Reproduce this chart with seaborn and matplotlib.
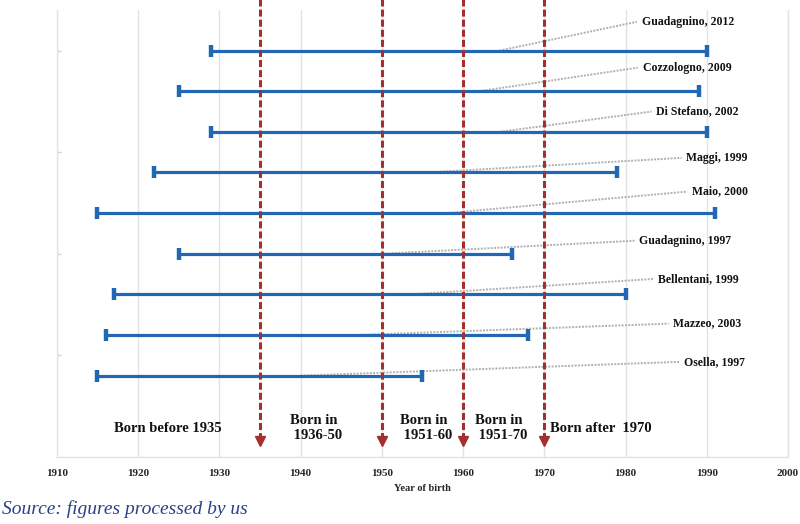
import pandas as pd
import matplotlib.pyplot as plt
import seaborn as sns

sns.set_theme(style="white")
plt.rcParams["font.family"] = ["Liberation Serif", "DejaVu Serif"]

# dati: intervallo degli anni di nascita per studio (dall'alto in basso)
studi = ["Guadagnino, 2012", "Cozzologno, 2009", "Di Stefano, 2002", "Maggi, 1999",
         "Maio, 2000", "Guadagnino, 1997", "Bellentani, 1999", "Mazzeo, 2003", "Osella, 1997"]
anno_inizio = [1929, 1925, 1929, 1922, 1915, 1925, 1917, 1916, 1915]
anno_fine = [1990, 1989, 1990, 1979, 1991, 1966, 1980, 1968, 1955]
riga = [10, 9, 8, 7, 6, 5, 4, 3, 2]

coorti = [1935, 1950, 1960, 1970]
etichette_coorti = ["Born before 1935", "Born in\n 1936-50", "Born in\n 1951-60",
                    "Born in\n 1951-70", "Born after  1970"]

# layout delle etichette (x inizio guida, x testo, y testo)
guida_x = [1964.5, 1962, 1964.5, 1955.5, 1958, 1950, 1953.5, 1947, 1940]
testo_x = [1982, 1982.1, 1983.8, 1987.5, 1988.2, 1981.7, 1984, 1985.9, 1987.2]
testo_y = [10.71, 9.58, 8.50, 7.36, 6.53, 5.32, 4.38, 3.28, 2.34]
coorti_x = [1917, 1938.7, 1952.2, 1961.5, 1970.7]

df = pd.DataFrame({"studio": studi, "riga": riga, "inizio": anno_inizio, "fine": anno_fine})
lungo = df.melt(id_vars=["studio", "riga"], value_vars=["inizio", "fine"], value_name="anno")

fig = plt.figure(figsize=(8, 5.24), dpi=100)
ax = fig.add_axes([0.071, 0.128, 0.914, 0.853])

blu = "#2267b4"
rosso = "#a3302e"
grigio = "#e3e3e3"

# linee guida tratteggiate grigie verso le etichette
for gx, r, tx, ty in zip(guida_x, riga, testo_x, testo_y):
    ax.plot([gx, tx - 0.6], [r, ty], ls=(0, (1, 0.7)), color="#b0b0b0", lw=1.4, zorder=2)

sns.lineplot(data=lungo, x="anno", y="riga", units="studio", estimator=None,
             color=blu, lw=2.3, marker="|", markersize=8, markeredgewidth=3.2,
             markeredgecolor=blu, markerfacecolor=blu,
             sort=False, ax=ax, zorder=3)

for c in coorti:
    ax.plot([c, c], [11.26, 0.5], color=rosso, lw=2.2, dashes=(2.3, 1.0),
            clip_on=False, zorder=4)
    ax.plot([c], [0.38], marker="v", color=rosso, markersize=6.5, clip_on=False, zorder=4)

for s, tx, ty in zip(studi, testo_x, testo_y):
    ax.text(tx, ty, s, fontsize=8.5, fontweight="bold", va="center", ha="left", color="#111111")

for lab, cx in zip(etichette_coorti, coorti_x):
    ax.text(cx, 0.71, lab, fontsize=10.5, fontweight="bold", va="center", ha="left",
            color="#111111", linespacing=1.2)

ax.set_xlim(1910, 2000)
ax.set_ylim(0, 11)
ax.set_xticks(range(1910, 2001, 10))
ax.set_yticks([2.5, 5, 7.5, 10])
ax.set_yticklabels([])
ax.xaxis.grid(True, color=grigio, lw=1)
ax.yaxis.grid(False)
ax.tick_params(axis="x", length=0, labelsize=8, pad=9)
ax.tick_params(axis="y", length=3, width=1, direction="in", color="#d0d0d0", left=True)
for lab in ax.get_xticklabels():
    lab.set_fontweight("bold")
ax.set_xlabel("Year of birth", fontsize=7.5, fontweight="bold", labelpad=4)
ax.set_ylabel("")
for lato in ["left", "bottom", "right"]:
    ax.spines[lato].set_color(grigio)
    ax.spines[lato].set_linewidth(1)
ax.spines["top"].set_visible(False)

fig.text(0.003, 0.012, "Source: figures processed by us", fontsize=14, style="italic",
         color="#2b3f8c", ha="left", va="bottom")

fig.savefig("out.png", dpi=100)
